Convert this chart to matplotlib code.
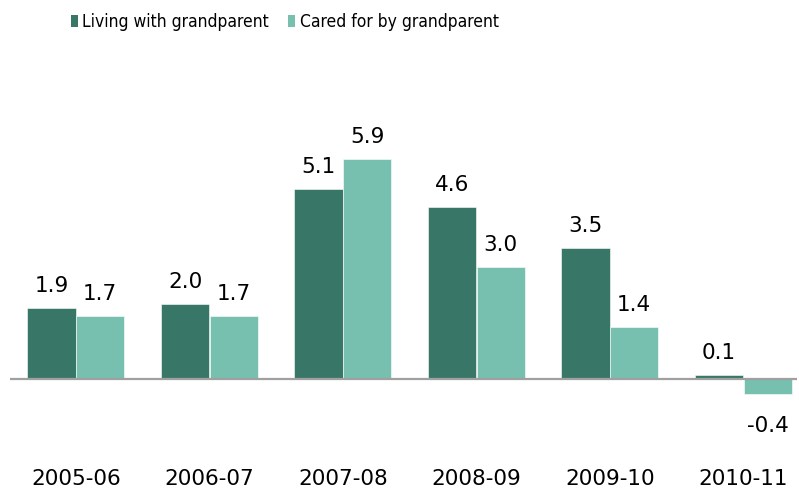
import matplotlib
matplotlib.use("Agg")
import matplotlib.pyplot as plt
from matplotlib.patches import Patch
import numpy as np

categories = ["2005-06", "2006-07", "2007-08", "2008-09", "2009-10", "2010-11"]
living = [1.9, 2.0, 5.1, 4.6, 3.5, 0.1]
cared = [1.7, 1.7, 5.9, 3.0, 1.4, -0.4]
series_names = ["Living with grandparent", "Cared for by grandparent"]

dark = "#387767"
light = "#77BFAF"

fig = plt.figure(figsize=(7.99, 4.91), dpi=100)
ax = fig.add_axes([10/799, (491-420)/491, 787/799, 370/491])

x = np.arange(len(categories))
w = 0.363
off = 0.182
ax.bar(x - off, living, width=w, color=dark, edgecolor="white", linewidth=0.4, zorder=2)
ax.bar(x + off, cared, width=w, color=light, edgecolor="white", linewidth=0.4, zorder=2)

ax.set_xlim(-0.494, 5.401)
ax.set_ylim(-1.1, 8.82)
ax.axhline(0, color="#a0a0a0", linewidth=1.6, zorder=3)

for s in ax.spines.values():
    s.set_visible(False)
ax.set_yticks([])
ax.set_xticks(x)
ax.set_xticklabels(categories, fontsize=15.5, family="DejaVu Sans")
ax.tick_params(axis="x", length=0, pad=35)

for xs, vals in ((x - off, living), (x + off, cared)):
    for xi, v in zip(xs, vals):
        if v >= 0:
            ax.annotate(f"{v:.1f}", (xi, v), xytext=(0, 22), textcoords="offset pixels",
                        ha="center", va="center", fontsize=15.5)
        else:
            ax.annotate(f"{v:.1f}", (xi, v), xytext=(0, -32), textcoords="offset pixels",
                        ha="center", va="center", fontsize=15.5)

handles = [Patch(facecolor=dark, edgecolor="none"), Patch(facecolor=light, edgecolor="none")]
fig.legend(handles, series_names, loc="center left", bbox_to_anchor=(62/799, 1 - 22/491),
           ncol=2, frameon=False, borderpad=0, handlelength=0.42, handleheight=0.75,
           handletextpad=0.25, columnspacing=1.1,
           prop={"family": "DejaVu Sans", "stretch": "condensed", "size": 12.5})

fig.savefig("out.png", dpi=100)
